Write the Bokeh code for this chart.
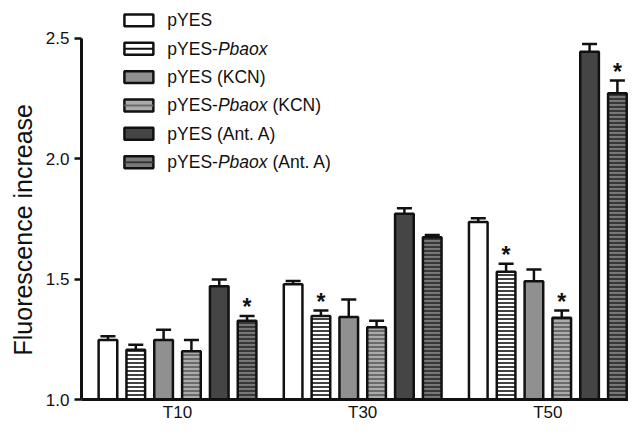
from bokeh.plotting import figure
from bokeh.models import ColumnDataSource, FixedTicker, NumeralTickFormatter, Title
from bokeh.core.properties import value
from bokeh.embed import file_html
from bokeh.resources import INLINE

# ---------------- data ----------------
timepoints = ["T10", "T30", "T50"]
series = ["pYES", "pYES-Pbaox", "pYES (KCN)", "pYES-Pbaox (KCN)",
          "pYES (Ant. A)", "pYES-Pbaox (Ant. A)"]

# mean fluorescence increase per series (T10, T30, T50)
pyes = [1.247, 1.479, 1.737]
pyes_pbaox = [1.207, 1.347, 1.531]
pyes_kcn = [1.247, 1.343, 1.491]
pyes_pbaox_kcn = [1.200, 1.300, 1.340]
pyes_anta = [1.470, 1.771, 2.444]
pyes_pbaox_anta = [1.327, 1.674, 2.272]

# error (upper whisker length)
pyes_err = [0.016, 0.013, 0.016]
pyes_pbaox_err = [0.020, 0.023, 0.033]
pyes_kcn_err = [0.043, 0.072, 0.049]
pyes_pbaox_kcn_err = [0.047, 0.027, 0.030]
pyes_anta_err = [0.028, 0.023, 0.032]
pyes_pbaox_anta_err = [0.020, 0.009, 0.053]

# significance asterisks
pyes_sig = [False, False, False]
pyes_pbaox_sig = [False, True, True]
pyes_kcn_sig = [False, False, False]
pyes_pbaox_kcn_sig = [False, False, True]
pyes_anta_sig = [False, False, False]
pyes_pbaox_anta_sig = [True, False, True]

y_ticks = [1.0, 1.5, 2.0, 2.5]
y_title = "Fluorescence increase"

means = [pyes, pyes_pbaox, pyes_kcn, pyes_pbaox_kcn, pyes_anta, pyes_pbaox_anta]
errs = [pyes_err, pyes_pbaox_err, pyes_kcn_err, pyes_pbaox_kcn_err,
        pyes_anta_err, pyes_pbaox_anta_err]
sigs = [pyes_sig, pyes_pbaox_sig, pyes_kcn_sig, pyes_pbaox_kcn_sig,
        pyes_anta_sig, pyes_pbaox_anta_sig]

# ---------------- styles ----------------
fills = ["#ffffff", "#ffffff", "#909090", "#ababab", "#454545", "#7a7a7a"]
hatches = [" ", "horizontal_line", " ", "horizontal_line", " ", "horizontal_line"]
hatch_colors = ["#111111", "#111111", "#111111", "#6a6a6a", "#111111", "#383838"]
hatch_weights = [1.5, 1.6, 1.5, 2.0, 1.5, 2.2]
INK = "#111111"
FONT = "Liberation Sans"

# ---------------- layout (pixels from top-left) ----------------
W, H = 628, 424
FRAME_L = 80            # frame left
BORDER_B = 23           # room for category labels
FB = H - BORDER_B       # frame bottom (y = 1.0)
Y25_PX = 38             # y = 2.5
PXU_Y = (FB - Y25_PX) / 1.5
PXG = 185.5             # px per group
BS = 28.4 / 189         # bar slot in group units
BAR_W = 0.67 * BS
CAP_HALF = 0.27 * BS
FIRST_BAR_PX = 106.5

X0 = -2.5 * BS - (FIRST_BAR_PX - FRAME_L) / PXG
x_rng = (X0, X0 + (W - FRAME_L) / PXG)
y_rng = (1.0, 2.5 + Y25_PX / PXU_Y)


def dx(px):
    return X0 + (px - FRAME_L) / PXG


def dy(py):
    return 1.0 + (FB - py) / PXU_Y


p = figure(width=W, height=H, x_range=x_rng, y_range=y_rng,
           output_backend="svg", toolbar_location=None,
           min_border_left=FRAME_L, min_border_right=0,
           min_border_top=0, min_border_bottom=BORDER_B)
p.outline_line_color = None
p.background_fill_color = "white"
p.border_fill_color = "white"
p.xgrid.visible = False
p.ygrid.visible = False

# x axis
xa = p.xaxis[0]
xa.ticker = FixedTicker(ticks=list(range(len(timepoints))))
xa.major_label_overrides = {i: t for i, t in enumerate(timepoints)}
xa.axis_line_width = 3
xa.axis_line_color = INK
xa.major_tick_out = 0
xa.major_tick_in = 0
xa.minor_tick_line_color = None
xa.major_label_standoff = 3
xa.major_label_text_font = FONT
xa.major_label_text_font_size = "17px"
xa.major_label_text_color = INK

# y axis
ya = p.yaxis[0]
ya.bounds = (y_ticks[0], y_ticks[-1])
ya.ticker = FixedTicker(ticks=y_ticks)
ya.formatter = NumeralTickFormatter(format="0.0")
ya.axis_line_width = 3
ya.axis_line_color = INK
ya.major_tick_out = 7
ya.major_tick_in = 0
ya.major_tick_line_width = 2.5
ya.major_tick_line_color = INK
ya.minor_tick_line_color = None
ya.major_label_standoff = 5
ya.major_label_text_font = FONT
ya.major_label_text_font_size = "17px"
ya.major_label_text_color = INK

# y title: starts at the reference's lower end, reads upward
p.add_layout(Title(text=y_title, align="left", offset=FB - 357,
                   text_font=FONT, text_font_size="25px",
                   text_font_style="normal", text_color=INK,
                   standoff=12), "left")

# bars
for i, (m, e, s) in enumerate(zip(means, errs, sigs)):
    xs = [g + (i - 2.5) * BS for g in range(len(timepoints))]
    tops = [mm + ee for mm, ee in zip(m, e)]
    src = ColumnDataSource(dict(x=xs, top=m, etop=tops,
                                cl=[x - CAP_HALF for x in xs],
                                cr=[x + CAP_HALF for x in xs]))
    p.segment(x0="x", y0="top", x1="x", y1="etop", source=src,
              line_width=2.5, line_color=INK)
    p.segment(x0="cl", y0="etop", x1="cr", y1="etop", source=src,
              line_width=2.5, line_color=INK)
    p.vbar(x="x", top="top", bottom=1.0, width=BAR_W, source=src,
           fill_color=fills[i], line_color=INK, line_width=2.5,
           hatch_pattern=hatches[i], hatch_color=hatch_colors[i],
           hatch_scale=4, hatch_weight=hatch_weights[i])
    sx = [x for x, flag in zip(xs, s) if flag]
    sy = [t for t, flag in zip(tops, s) if flag]
    if sx:
        p.text(x=sx, y=sy, text=["*"] * len(sx), text_align="center",
               text_baseline="alphabetic", y_offset=-8.5,
               text_font=value(FONT), text_font_size="23px",
               text_font_style="bold", text_color=INK)

# ---------------- legend ----------------
ARIAL = {"p": 556, "Y": 667, "E": 667, "S": 667, "-": 333, "P": 667, "b": 556,
         "a": 556, "o": 556, "x": 500, " ": 278, "(": 333, ")": 333, "K": 667,
         "C": 722, "N": 722, "A": 667, "n": 556, "t": 278, ".": 278}
LFS = 17.5
SW_L, SW_R, SW_H = 123, 152, 12
TXT_X = 166
ROW0, ROW_P = 20, 28.5


def text_w(s):
    return sum(ARIAL.get(c, 556) for c in s) * LFS / 1000.0


for i, label in enumerate(series):
    cy = ROW0 + i * ROW_P
    p.quad(left=[dx(SW_L)], right=[dx(SW_R)], top=[dy(cy - SW_H / 2)],
           bottom=[dy(cy + SW_H / 2)], fill_color=fills[i],
           line_color=INK, line_width=2.5)
    if hatches[i] != " ":
        p.segment(x0=[dx(SW_L)], x1=[dx(SW_R)], y0=[dy(cy)], y1=[dy(cy)],
                  line_color=hatch_colors[i], line_width=2)
    # split label into normal / italic pieces
    pieces = []
    rest = label
    while "Pbaox" in rest:
        a, rest = rest.split("Pbaox", 1)
        if a:
            pieces.append((a, "normal"))
        pieces.append(("Pbaox", "italic"))
    if rest:
        pieces.append((rest, "normal"))
    off = 0.0
    for txt, style in pieces:
        lead = len(txt) - len(txt.lstrip(" "))
        off += text_w(" " * lead)
        t = txt.strip(" ")
        p.text(x=[dx(TXT_X)], y=[dy(cy)], text=[t], x_offset=off,
               text_baseline="middle", text_align="left",
               text_font=value(FONT), text_font_size=f"{LFS}px",
               text_font_style=style, text_color=INK)
        off += text_w(t)

open("out.html", "w").write(file_html(p, INLINE))
